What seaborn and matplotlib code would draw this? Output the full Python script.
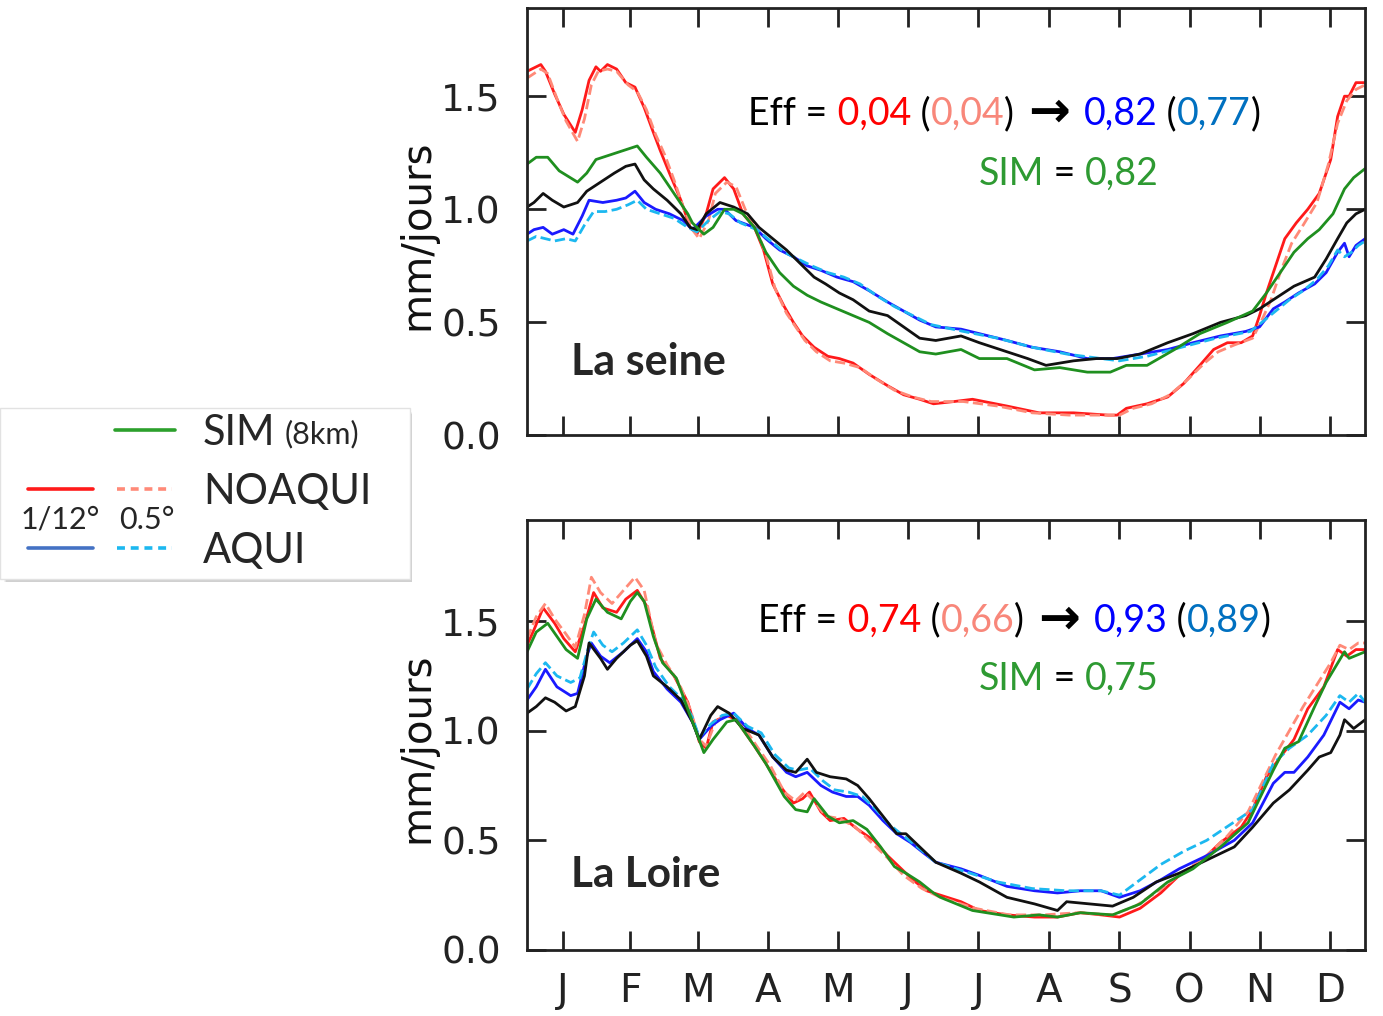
import numpy as np
import pandas as pd
import seaborn as sns
import matplotlib.pyplot as plt
from matplotlib.patches import Rectangle

# axe des x : jour de l'annee, ticks au milieu de chaque mois
months = ['J', 'F', 'M', 'A', 'M', 'J', 'J', 'A', 'S', 'O', 'N', 'D']
month_mid = [15.5, 45, 74.5, 105, 135.5, 166, 196.5, 227.5, 258, 288.5, 319, 349.5]
yticks = [0.0, 0.5, 1.0, 1.5]
ytick_labels = ['0.0', '0.5', '1.0', '1.5']

# ---------------- La seine (mm/jour)
seine_obs_day = [0, 3, 7, 11, 16, 22, 26, 32, 38, 43, 47, 51, 55, 61, 67, 71, 74, 78, 84, 90, 96, 101, 107, 113,
                 119, 125, 130, 136, 142, 149, 157, 164, 171, 178, 189, 197, 209, 218, 226, 238, 248, 257, 267,
                 279, 290, 302, 313, 319, 325, 334, 343, 348, 353, 357, 361, 365]
seine_obs = [1.01, 1.03, 1.07, 1.04, 1.01, 1.03, 1.08, 1.12, 1.16, 1.19, 1.20, 1.13, 1.09, 1.04, 0.98, 0.92, 0.91,
             0.98, 1.03, 1.01, 0.98, 0.92, 0.87, 0.82, 0.76, 0.70, 0.67, 0.63, 0.60, 0.55, 0.53, 0.48, 0.43, 0.42,
             0.44, 0.41, 0.37, 0.34, 0.31, 0.33, 0.34, 0.34, 0.36, 0.41, 0.45, 0.50, 0.53, 0.56, 0.60, 0.66, 0.70,
             0.78, 0.87, 0.94, 0.98, 1.00]

seine_sim_day = [0, 4, 9, 14, 22, 26, 30, 36, 42, 48, 52, 58, 64, 70, 72, 77, 81, 86, 90, 94, 99, 104, 110, 116,
                 122, 128, 135, 142, 149, 157, 164, 171, 178, 189, 197, 209, 221, 232, 244, 254, 261, 270, 282,
                 293, 305, 316, 322, 328, 334, 340, 345, 351, 356, 360, 365]
seine_sim = [1.20, 1.23, 1.23, 1.17, 1.12, 1.16, 1.22, 1.24, 1.26, 1.28, 1.23, 1.16, 1.07, 0.98, 0.94, 0.89, 0.92,
             1.00, 1.00, 0.98, 0.92, 0.81, 0.72, 0.66, 0.62, 0.59, 0.56, 0.53, 0.50, 0.45, 0.41, 0.37, 0.36, 0.38,
             0.34, 0.34, 0.29, 0.30, 0.28, 0.28, 0.31, 0.31, 0.38, 0.45, 0.50, 0.55, 0.63, 0.72, 0.81, 0.87, 0.91,
             0.98, 1.09, 1.14, 1.18]

seine_noaq_day = [0, 6, 8, 12, 16, 21, 24, 27, 30, 32, 35, 39, 43, 47, 51, 55, 58, 62, 67, 71, 74, 78, 81, 86, 90,
                  94, 99, 103, 107, 112, 116, 120, 125, 131, 136, 142, 149, 157, 164, 171, 177, 186, 194, 209,
                  223, 238, 253, 257, 261, 270, 279, 286, 293, 299, 305, 311, 316, 319, 322, 326, 330, 335, 340,
                  345, 350, 353, 356, 358, 361, 365]
seine_noaq = [1.61, 1.64, 1.61, 1.51, 1.42, 1.34, 1.44, 1.57, 1.63, 1.61, 1.64, 1.62, 1.56, 1.54, 1.45, 1.34, 1.26,
              1.16, 1.04, 0.92, 0.89, 0.98, 1.09, 1.14, 1.09, 0.98, 0.92, 0.82, 0.67, 0.57, 0.50, 0.44, 0.39, 0.35,
              0.34, 0.32, 0.27, 0.22, 0.18, 0.16, 0.14, 0.15, 0.16, 0.13, 0.10, 0.10, 0.09, 0.09, 0.12, 0.14, 0.17,
              0.23, 0.31, 0.38, 0.41, 0.41, 0.44, 0.53, 0.63, 0.75, 0.87, 0.94, 1.00, 1.07, 1.22, 1.41, 1.50, 1.50,
              1.56, 1.56]

seine_noaq05_day = [0, 6, 9, 13, 17, 22, 25, 28, 31, 35, 39, 44, 48, 52, 56, 60, 64, 68, 72, 75, 79, 82, 87, 91,
                    95, 100, 104, 108, 113, 117, 121, 126, 132, 138, 145, 152, 160, 168, 176, 190, 205, 220, 236,
                    250, 258, 264, 272, 280, 288, 295, 301, 308, 316, 320, 324, 328, 333, 338, 344, 349, 353, 357,
                    361, 365]
seine_noaq05 = [1.58, 1.62, 1.60, 1.49, 1.39, 1.30, 1.40, 1.55, 1.61, 1.62, 1.61, 1.55, 1.52, 1.44, 1.33, 1.24,
                1.13, 1.01, 0.91, 0.87, 0.95, 1.07, 1.12, 1.10, 1.00, 0.91, 0.80, 0.65, 0.54, 0.48, 0.42, 0.37,
                0.33, 0.32, 0.30, 0.25, 0.20, 0.17, 0.15, 0.15, 0.13, 0.10, 0.09, 0.09, 0.09, 0.12, 0.14, 0.18,
                0.25, 0.32, 0.37, 0.40, 0.43, 0.51, 0.60, 0.72, 0.85, 0.93, 1.03, 1.20, 1.38, 1.48, 1.53, 1.55]

seine_aqui_day = [0, 3, 7, 11, 16, 20, 24, 27, 33, 39, 43, 47, 51, 56, 62, 68, 72, 78, 83, 86, 91, 99, 104, 110,
                  116, 122, 128, 135, 142, 149, 157, 164, 171, 178, 189, 197, 209, 220, 232, 244, 255, 267, 279,
                  290, 302, 313, 319, 325, 330, 336, 343, 348, 353, 356, 358, 361, 365]
seine_aqui = [0.89, 0.91, 0.92, 0.89, 0.91, 0.89, 0.97, 1.04, 1.03, 1.04, 1.05, 1.08, 1.03, 1.00, 0.98, 0.95, 0.91,
              0.97, 1.00, 1.00, 0.95, 0.92, 0.87, 0.82, 0.79, 0.75, 0.73, 0.70, 0.68, 0.64, 0.59, 0.55, 0.51, 0.48,
              0.47, 0.45, 0.42, 0.39, 0.37, 0.34, 0.34, 0.36, 0.38, 0.41, 0.44, 0.46, 0.48, 0.56, 0.59, 0.63, 0.67,
              0.72, 0.81, 0.85, 0.79, 0.84, 0.87]

seine_aqui05_day = [0, 4, 8, 12, 17, 21, 25, 29, 34, 39, 44, 48, 52, 58, 64, 70, 74, 79, 84, 88, 93, 100, 106, 112,
                    118, 124, 131, 138, 145, 152, 160, 168, 176, 190, 205, 220, 235, 250, 258, 270, 285, 300, 315,
                    320, 326, 332, 338, 344, 349, 353, 356, 359, 362, 365]
seine_aqui05 = [0.86, 0.88, 0.87, 0.86, 0.87, 0.86, 0.93, 0.99, 0.99, 1.00, 1.02, 1.04, 1.00, 0.98, 0.96, 0.92,
                0.90, 0.95, 0.99, 0.98, 0.94, 0.91, 0.86, 0.81, 0.78, 0.75, 0.72, 0.70, 0.67, 0.62, 0.57, 0.53,
                0.49, 0.46, 0.43, 0.39, 0.36, 0.34, 0.33, 0.35, 0.39, 0.43, 0.46, 0.50, 0.55, 0.60, 0.64, 0.69,
                0.75, 0.82, 0.79, 0.81, 0.84, 0.86]

# ---------------- La Loire
loire_obs_day = [0, 4, 8, 12, 17, 21, 25, 27, 32, 35, 39, 45, 48, 52, 55, 61, 67, 72, 75, 80, 83, 88, 94, 101, 107,
                 113, 117, 122, 126, 132, 139, 144, 149, 155, 161, 165, 171, 178, 189, 197, 209, 221, 231, 235,
                 245, 255, 264, 274, 284, 296, 308, 316, 325, 332, 340, 345, 350, 354, 356, 360, 365]
loire_obs = [1.08, 1.11, 1.15, 1.13, 1.09, 1.11, 1.25, 1.40, 1.33, 1.28, 1.33, 1.39, 1.41, 1.34, 1.25, 1.20, 1.14,
             1.04, 0.96, 1.07, 1.11, 1.08, 1.01, 0.98, 0.88, 0.82, 0.81, 0.87, 0.81, 0.79, 0.78, 0.75, 0.69, 0.61,
             0.53, 0.53, 0.47, 0.40, 0.35, 0.31, 0.24, 0.21, 0.18, 0.22, 0.21, 0.20, 0.24, 0.31, 0.35, 0.41, 0.47,
             0.56, 0.67, 0.73, 0.82, 0.88, 0.90, 0.98, 1.05, 1.01, 1.05]

loire_sim_day = [0, 4, 9, 13, 17, 22, 26, 30, 35, 41, 45, 48, 51, 55, 59, 65, 71, 77, 81, 87, 91, 99, 104, 112, 117,
                 122, 125, 131, 136, 142, 148, 154, 160, 165, 171, 177, 180, 194, 212, 223, 231, 241, 255, 267,
                 279, 290, 302, 314, 319, 325, 330, 336, 343, 348, 356, 358, 365]
loire_sim = [1.36, 1.45, 1.49, 1.43, 1.37, 1.33, 1.51, 1.60, 1.54, 1.51, 1.59, 1.63, 1.59, 1.43, 1.31, 1.24, 1.07,
             0.90, 0.96, 1.04, 1.05, 0.93, 0.85, 0.70, 0.64, 0.63, 0.69, 0.61, 0.58, 0.59, 0.55, 0.47, 0.38, 0.35,
             0.31, 0.26, 0.24, 0.18, 0.15, 0.16, 0.15, 0.17, 0.16, 0.21, 0.31, 0.37, 0.47, 0.58, 0.69, 0.82, 0.92,
             0.95, 1.11, 1.22, 1.36, 1.33, 1.36]

loire_noaq_day = [0, 3, 7, 12, 16, 21, 25, 29, 33, 39, 43, 48, 52, 58, 64, 70, 75, 78, 81, 87, 91, 99, 104, 110,
                  116, 120, 123, 128, 132, 138, 144, 151, 157, 163, 168, 174, 180, 189, 197, 209, 221, 231, 241,
                  250, 258, 267, 276, 284, 293, 302, 311, 316, 322, 328, 334, 340, 347, 353, 357, 361, 365]
loire_noaq = [1.39, 1.46, 1.56, 1.49, 1.42, 1.36, 1.48, 1.63, 1.56, 1.54, 1.60, 1.64, 1.57, 1.33, 1.25, 1.13, 0.95,
              0.92, 1.04, 1.07, 1.05, 0.93, 0.85, 0.75, 0.67, 0.69, 0.72, 0.63, 0.59, 0.60, 0.55, 0.50, 0.43, 0.37,
              0.32, 0.27, 0.25, 0.22, 0.18, 0.16, 0.15, 0.15, 0.17, 0.16, 0.15, 0.19, 0.26, 0.34, 0.40, 0.49, 0.56,
              0.64, 0.79, 0.88, 0.96, 1.10, 1.20, 1.37, 1.34, 1.37, 1.37]

loire_noaq05_day = [0, 4, 8, 12, 17, 21, 25, 28, 32, 37, 42, 47, 51, 56, 61, 66, 71, 75, 78, 82, 88, 93, 100, 106,
                    112, 117, 121, 125, 130, 136, 143, 150, 157, 164, 172, 180, 195, 210, 225, 240, 255, 265, 275,
                    285, 295, 305, 314, 320, 326, 332, 338, 344, 350, 354, 358, 362, 365]
loire_noaq05 = [1.42, 1.52, 1.58, 1.51, 1.44, 1.38, 1.53, 1.70, 1.63, 1.58, 1.64, 1.70, 1.64, 1.40, 1.30, 1.22,
                1.10, 0.96, 0.93, 1.04, 1.08, 1.04, 0.93, 0.84, 0.72, 0.68, 0.72, 0.68, 0.61, 0.60, 0.56, 0.49,
                0.42, 0.34, 0.28, 0.24, 0.19, 0.16, 0.16, 0.17, 0.16, 0.20, 0.27, 0.35, 0.42, 0.52, 0.63, 0.76,
                0.89, 1.00, 1.11, 1.21, 1.31, 1.39, 1.37, 1.40, 1.40]

loire_aqui_day = [0, 4, 8, 13, 19, 22, 26, 28, 32, 36, 42, 48, 52, 55, 61, 67, 72, 75, 80, 84, 90, 96, 101, 107,
                  113, 117, 122, 128, 133, 139, 144, 149, 155, 161, 167, 173, 178, 189, 197, 209, 221, 231, 241,
                  250, 258, 267, 276, 284, 296, 308, 316, 325, 330, 334, 340, 347, 354, 358, 362, 365]
loire_aqui = [1.14, 1.20, 1.28, 1.20, 1.16, 1.17, 1.34, 1.40, 1.34, 1.31, 1.36, 1.42, 1.36, 1.27, 1.19, 1.13, 1.04,
              0.96, 1.02, 1.05, 1.08, 1.01, 0.98, 0.88, 0.81, 0.79, 0.81, 0.75, 0.72, 0.70, 0.70, 0.66, 0.59, 0.53,
              0.49, 0.44, 0.40, 0.37, 0.34, 0.29, 0.27, 0.26, 0.27, 0.27, 0.24, 0.27, 0.32, 0.37, 0.43, 0.50, 0.58,
              0.76, 0.81, 0.81, 0.88, 0.98, 1.13, 1.10, 1.14, 1.13]

loire_aqui05_day = [0, 4, 8, 13, 19, 23, 27, 29, 33, 37, 42, 48, 52, 56, 62, 68, 72, 75, 80, 85, 90, 96, 102, 108,
                    114, 118, 123, 129, 134, 140, 146, 152, 158, 164, 170, 178, 190, 205, 220, 235, 250, 258, 267,
                    276, 286, 296, 306, 316, 325, 332, 340, 348, 354, 358, 362, 365]
loire_aqui05 = [1.19, 1.26, 1.31, 1.25, 1.22, 1.24, 1.39, 1.45, 1.39, 1.36, 1.40, 1.46, 1.39, 1.29, 1.20, 1.14,
                1.06, 0.97, 1.03, 1.07, 1.08, 1.02, 0.99, 0.89, 0.83, 0.82, 0.83, 0.77, 0.73, 0.72, 0.70, 0.64,
                0.57, 0.52, 0.47, 0.40, 0.36, 0.31, 0.28, 0.27, 0.27, 0.25, 0.32, 0.39, 0.45, 0.50, 0.57, 0.64,
                0.85, 0.92, 0.98, 1.07, 1.16, 1.13, 1.17, 1.13]

# couleurs
c_noaq, c_noaq05 = '#ff1a1a', '#ff8a78'
c_aqui, c_aqui05 = '#1a1aff', '#1cb8f0'
c_sim, c_obs = '#1f8f1f', '#111111'

sns.set_style('ticks')
plt.rcParams['font.family'] = ['DejaVu Sans']
calib = ['Lato', 'DejaVu Sans']  # police proche de Calibri pour les annotations

fig = plt.figure(figsize=(13.83, 10.16), dpi=100)

# calque en pixels pour la legende
ov = fig.add_axes([0, 0, 1, 1])
ov.set_xlim(0, 1383)
ov.set_ylim(1016, 0)
ov.axis('off')

ax1 = fig.add_axes([0.3811, 0.5714, 0.606, 0.4205])
ax2 = fig.add_axes([0.3811, 0.065, 0.606, 0.4232])


def draw_panel(ax, series, ymax):
    for days, vals, col, ls in series:
        sns.lineplot(x=days, y=vals, ax=ax, color=col, linestyle=ls, lw=2.0,
                     estimator=None, sort=False, legend=False)
    ax.set_xlim(0, 365)
    ax.set_ylim(0, ymax)
    ax.set_xticks(month_mid)
    ax.set_yticks(yticks)
    ax.set_yticklabels(ytick_labels)
    ax.tick_params(direction='in', length=14, width=2, top=True, right=True,
                   colors='#222222', labelsize=27)
    ax.tick_params(axis='y', pad=19)
    ax.tick_params(axis='x', pad=16, labelsize=28)
    for sp in ax.spines.values():
        sp.set_linewidth(2)
        sp.set_color('#222222')
    ax.set_ylabel('mm/jours', fontsize=29, color='#111111')
    ax.set_xlabel('')


def colored_text(ax, x, y, parts, size):
    # morceaux de texte colores mis bout a bout
    t = ax.text(x, y, parts[0][0], color=parts[0][1], transform=ax.transAxes, fontsize=size,
                va='baseline', ha='left', family=calib)
    for s, c in parts[1:]:
        if s == 'ARROW':
            # bloc invisible qui reserve la place, fleche epaisse centree dessus
            t = ax.annotate('MM', xy=(1, 0), xycoords=t, fontsize=size, va='bottom', ha='left',
                            family=calib, alpha=0)
            ax.annotate('\u2192', xy=(0.5, 0.53), xycoords=t, color=c, fontsize=36, va='center',
                        ha='center', family='DejaVu Sans', fontweight='bold')
        else:
            t = ax.annotate(s, xy=(1, 0), xycoords=t, color=c, fontsize=size, va='bottom', ha='left',
                            family=calib)


draw_panel(ax1, [
    (seine_noaq_day, seine_noaq, c_noaq, '-'),
    (seine_noaq05_day, seine_noaq05, c_noaq05, '--'),
    (seine_aqui_day, seine_aqui, c_aqui, '-'),
    (seine_aqui05_day, seine_aqui05, c_aqui05, '--'),
    (seine_obs_day, seine_obs, c_obs, '-'),
    (seine_sim_day, seine_sim, c_sim, '-'),
], 1.889)
ax1.set_xticklabels([])

draw_panel(ax2, [
    (loire_noaq_day, loire_noaq, c_noaq, '-'),
    (loire_noaq05_day, loire_noaq05, c_noaq05, '--'),
    (loire_aqui_day, loire_aqui, c_aqui, '-'),
    (loire_aqui05_day, loire_aqui05, c_aqui05, '--'),
    (loire_obs_day, loire_obs, c_obs, '-'),
    (loire_sim_day, loire_sim, c_sim, '-'),
], 1.961)
ax2.set_xticklabels(months)

for ax in (ax1, ax2):
    ax.yaxis.set_label_coords(-0.107, 0.47)

# annotations d'efficience
colored_text(ax1, 0.264, 0.727, [('Eff =', 'black'), (' 0,04', '#ff0000'), (' (', 'black'),
                                 ('0,04', '#f8877a'), (')', 'black'), ('ARROW', 'black'),
                                 ('0,82', '#0000ff'), (' (', 'black'), ('0,77', '#0070c0'), (')', 'black')], 27)
colored_text(ax1, 0.539, 0.586, [('SIM', '#2e9a32'), (' = ', 'black'), ('0,82', '#2e9a32')], 27)
ax1.text(0.053, 0.142, 'La seine', transform=ax1.transAxes, fontsize=31, fontweight='bold',
         family=calib, va='baseline')

colored_text(ax2, 0.276, 0.74, [('Eff =', 'black'), (' 0,74', '#ff0000'), (' (', 'black'),
                                ('0,66', '#f8877a'), (')', 'black'), ('ARROW', 'black'),
                                ('0,93', '#0000ff'), (' (', 'black'), ('0,89', '#0070c0'), (')', 'black')], 27)
colored_text(ax2, 0.539, 0.605, [('SIM', '#2e9a32'), (' = ', 'black'), ('0,75', '#2e9a32')], 27)
ax2.text(0.053, 0.147, 'La Loire', transform=ax2.transAxes, fontsize=30.5, fontweight='bold',
         family=calib, va='baseline')

# legende (boite avec ombre)
for k, a in enumerate([0.10, 0.12, 0.16]):
    ov.add_patch(Rectangle((4 + k, 412 + k), 408 - k, 170 - k, facecolor='#777777', alpha=a,
                           edgecolor='none', zorder=1))
ov.add_patch(Rectangle((0, 408), 410, 171, facecolor='white', edgecolor='#e2e2e2', lw=1, zorder=2))
ov.plot([115, 175], [430, 430], color='#2ca02c', lw=2.6, zorder=3)
ov.plot([28, 93], [489, 489], color='#ff1a1a', lw=2.6, zorder=3)
ov.plot([117, 172], [489, 489], color='#ff8a78', lw=2.6, ls=(0, (2.2, 1.6)), zorder=3)
ov.plot([28, 93], [548, 548], color='#4472c4', lw=2.6, zorder=3)
ov.plot([117, 172], [548, 548], color='#1cb8f0', lw=2.6, ls=(0, (2.2, 1.6)), zorder=3)
ov.text(203, 445, 'SIM', fontsize=30, family=calib, va='baseline', zorder=4)
ov.text(285, 443, '(8km)', fontsize=22, family=calib, va='baseline', zorder=4)
ov.text(203, 504, 'NOAQUI', fontsize=30, family=calib, va='baseline', zorder=4)
ov.text(203, 563, 'AQUI', fontsize=30, family=calib, va='baseline', zorder=4)
ov.text(60, 520, '1/12\u00b0', fontsize=22, family=calib, ha='center', va='center', zorder=4)
ov.text(147, 520, '0.5\u00b0', fontsize=22, family=calib, ha='center', va='center', zorder=4)

fig.savefig('out.png', dpi=100)
